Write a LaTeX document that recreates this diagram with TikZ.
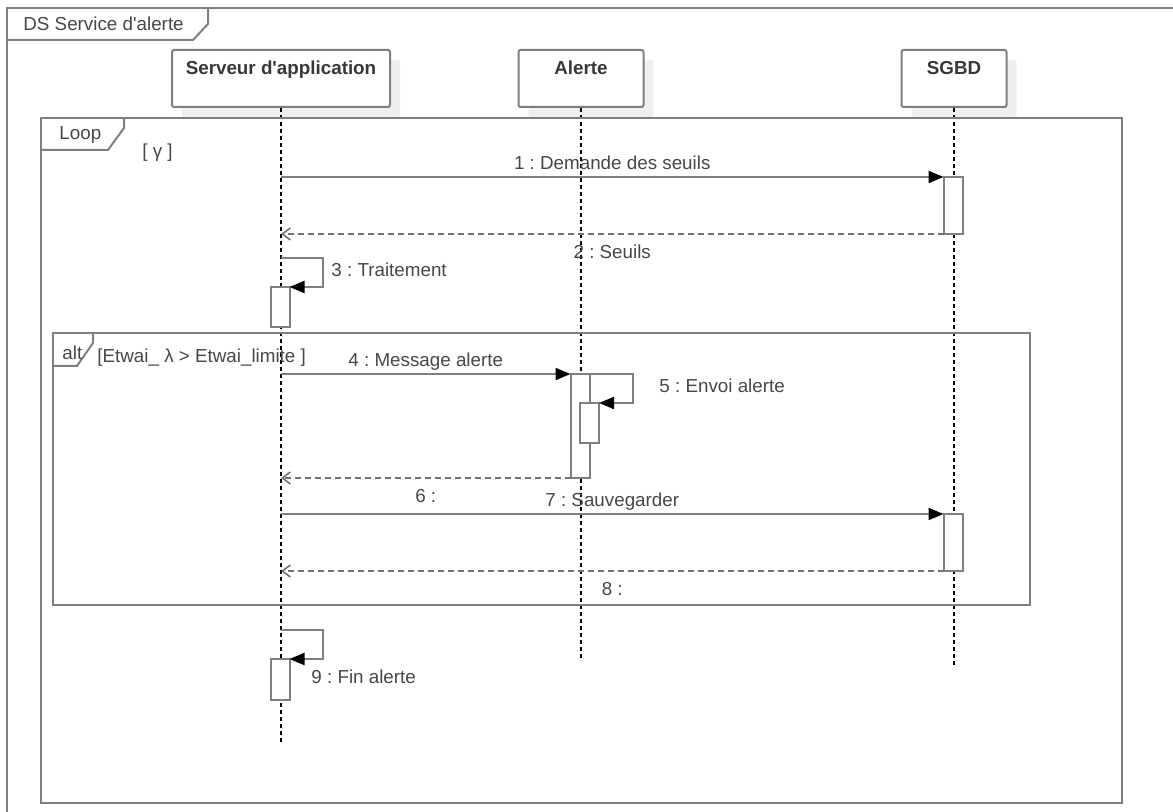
\documentclass[tikz,border=0pt]{standalone}
\usepackage{fontspec}
\setmainfont{Liberation Sans}
\usetikzlibrary{arrows.meta,shadows}
\definecolor{framegray}{HTML}{7F7F7F}
\definecolor{labgray}{HTML}{474747}
\definecolor{shadowgray}{HTML}{EFEFEF}
\newcommand{\apos}{\textquotesingle}
\frenchspacing
\tikzset{
  % --- frames: sd, loop, alt -------------------------------------------------
  sdframe/.style={draw=framegray,line width=1pt},
  tabtext/.style={anchor=west,inner sep=0pt,text=labgray},
  % --- lifelines -------------------------------------------------------------
  head/.style={draw=framegray,line width=1pt,fill=white,rounded corners=1pt,
               anchor=north,minimum width=#1*0.5pt,inner ysep=0pt,
               text height=12.5pt,text depth=16pt,text=black!78,
               font=\fontsize{9.4}{11}\selectfont\bfseries,
               general shadow={fill=shadowgray,shadow xshift=5pt,shadow yshift=-5pt}},
  life/.style={black,line width=0.6pt,dash pattern=on 2pt off 1.5pt},
  act/.style={draw=framegray,line width=1pt,fill=white,anchor=north,outer sep=0pt,
              minimum width=9.5pt,minimum height=#1*0.5pt,inner sep=0pt},
  % --- messages --------------------------------------------------------------
  msg/.style={draw=framegray,line width=1pt,
              -{Triangle[length=7.5pt,width=6pt,color=black]}},
  ret/.style={draw=framegray!90!black,line width=0.8pt,dash pattern=on 3pt off 2pt,
              -{Straight Barb[length=4pt,width=6pt]}},
  msglab/.style={midway,text=labgray,inner sep=1pt,text height=7pt,text depth=2pt},
  retlab/.style={msglab,below=4pt},
  sidelab/.style={anchor=west,text=labgray,inner sep=0pt},
}

\begin{document}
\begin{tikzpicture}[x=0.5pt, y=-0.5pt, font=\fontsize{9.4}{11}\selectfont]
  \useasboundingbox (0,0) rectangle (1173,812);
  \clip (0,0) rectangle (1173,812);

  % outer frame and its tab
  \draw[sdframe] (7,8) rectangle (1190,830);
  \draw[sdframe] (208,8) -- (208,24) -- (193,40) -- (7,40);
  \node[tabtext] (ttl) at (23,24) {DS Service d\apos alerte};

  % lifeline heads
  \node[head=218] (srv) at (281,49)   {Serveur d\apos application};
  \node[head=125] (alr) at (581,49)   {Alerte};
  \node[head=105] (bdd) at (954,49)   {SGBD};
  \coordinate (srvend) at (281,745);
  \coordinate (alrend) at (581,660);
  \coordinate (bddend) at (954,668);
  \draw[life] (srv.south) -- (srvend);
  \draw[life] (alr.south) -- (alrend);
  \draw[life] (bdd.south) -- (bddend);

  % loop fragment
  \draw[sdframe] (41,118) rectangle (1122,803);
  \draw[sdframe] (124,118) -- (124,128) -- (108,150) -- (41,150);
  \node[tabtext] (loop) at (59,135) {Loop};
  \node[tabtext] (lgrd) at (142,153) {[ γ ]};

  % alt fragment
  \draw[sdframe] (53,333) rectangle (1030,605);
  \draw[sdframe] (93,333) -- (93,343) -- (77,366) -- (53,366);
  \node[tabtext] (alt)  at (62,353) {alt};
  \node[tabtext] (agrd) at (97,358) {[Etwai\_ λ > Etwai\_limite ]};

  % activations
  \node[act=57] (bdd1) at (953,177) {};
  \node[act=40] (srv1) at (280,287) {};
  \node[act=104] (alr1) at (580,374) {};
  \node[act=40] (alr2) at (589.5,403) {};
  \node[act=57] (bdd2) at (953,514) {};
  \node[act=41] (srv2) at (280,659) {};

  % message ends on the lifelines
  \coordinate (m1a) at (281,177);
  \coordinate (m2b) at (281,234);
  \coordinate (m3a) at (281,258);
  \coordinate (m4a) at (281,374);
  \coordinate (m6b) at (281,478);
  \coordinate (m7a) at (281,514);
  \coordinate (m8b) at (281,571);
  \coordinate (m9a) at (281,630);

  \draw[msg] (m1a) -- (bdd1.north west) node[msglab,above] (l1) {1 : Demande des seuils};
  \draw[ret] (bdd1.south west) -- (m2b) node[retlab] (l2) {2 : Seuils};
  \draw[msg] (m3a) -- ++(42,0) |- (srv1.north east);
  \node[sidelab] (l3) at (331,270) {3 : Traitement};
  \draw[msg] (m4a) -- (alr1.north west) node[msglab,above] (l4) {4 : Message alerte};
  \draw[msg] (alr1.north east) -- ++(43,0) |- (alr2.north east);
  \node[sidelab] (l5) at (659,386) {5 : Envoi alerte};
  \draw[ret] (alr1.south west) -- (m6b) node[retlab] (l6) {6 :};
  \draw[msg] (m7a) -- (bdd2.north west) node[msglab,above] (l7) {7 : Sauvegarder};
  \draw[ret] (bdd2.south west) -- (m8b) node[retlab] (l8) {8 :};
  \draw[msg] (m9a) -- ++(42,0) |- (srv2.north east);
  \node[sidelab] (l9) at (311,677) {9 : Fin alerte};
\end{tikzpicture}
\end{document}
